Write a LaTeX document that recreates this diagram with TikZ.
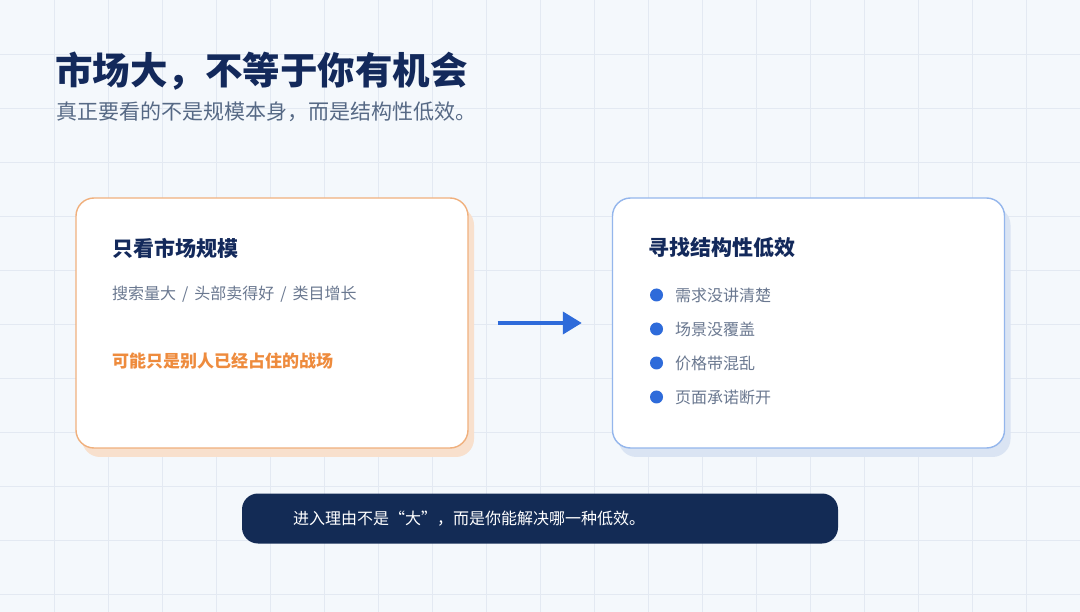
\documentclass[tikz,border=0pt]{standalone}
\usepackage{fontspec}
\setmainfont{Noto Sans CJK SC}
\usetikzlibrary{shadows,arrows.meta}
\definecolor{bgc}{HTML}{F4F8FC}
\definecolor{gridc}{HTML}{E3E9F2}
\definecolor{navy}{HTML}{13295B}
\definecolor{subc}{HTML}{566985}
\definecolor{bodyc}{HTML}{6A7890}
\definecolor{orng}{HTML}{EE8B3D}
\definecolor{orngbd}{HTML}{F0B07D}
\definecolor{orngsh}{HTML}{F8E0CD}
\definecolor{blubd}{HTML}{94B6EC}
\definecolor{blush}{HTML}{DAE4F3}
\definecolor{blu}{HTML}{2E6BDA}
\definecolor{barc}{HTML}{132B55}
\tikzset{
  txt/.style={anchor=west, inner sep=0pt},
  card/.style={draw=#1bd, line width=1.4pt, fill=white, rounded corners=18pt,
    minimum width=392pt, minimum height=250pt, inner sep=0pt,
    drop shadow={shadow xshift=6pt, shadow yshift=-9pt, fill=#1sh, opacity=1}},
  dot/.style={circle, fill=blu, minimum size=13pt, inner sep=0pt},
  bodytxt/.style={txt, text=bodyc, font=\fontsize{16}{18}\selectfont},
}
\newcommand{\slsp}{\hspace{6pt}/\hspace{6pt}}
\begin{document}
\begin{tikzpicture}[x=1pt,y=-1pt]
\useasboundingbox (0,0) rectangle (1080,612);
\fill[bgc] (0,0) rectangle (1080,612);
\foreach \i in {1,...,19} \draw[gridc, line width=0.8pt] (\i*54,0) -- (\i*54,612);
\foreach \j in {1,...,11} \draw[gridc, line width=0.8pt] (0,\j*54) -- (1080,\j*54);

% title
\node[txt, text=navy, font=\fontsize{37.5}{40}\bfseries\selectfont] (title) at (55,71) {市场大，不等于你有机会};
\node[txt, text=subc, font=\fontsize{21}{24}\selectfont] (sub) at (56,112) {真正要看的不是规模本身，而是结构性低效。};

% cards
\node[card=orng] (lcard) at (272,323) {};
\node[card=blu] (rcard) at (808.5,323) {};

% left card text
\node[txt, text=navy, font=\fontsize{21}{24}\bfseries\selectfont] (lt) at (112,248) {只看市场规模};
\node[bodytxt] (ls) at (112,294) {搜索量大\slsp 头部卖得好\slsp 类目增长};
\node[txt, text=orng, font=\fontsize{17}{20}\bfseries\selectfont] (lo) at (112,361) {可能只是别人已经占住的战场};

% right card text
\node[txt, text=navy, font=\fontsize{21}{24}\bfseries\selectfont] (rt) at (648,248) {寻找结构性低效};
\node[dot] (d1) at (656.5,295) {};
\node[dot] (d2) at (656.5,329) {};
\node[dot] (d3) at (656.5,363) {};
\node[dot] (d4) at (656.5,397) {};
\node[bodytxt] (b1) at (675,295) {需求没讲清楚};
\node[bodytxt] (b2) at (675,329) {场景没覆盖};
\node[bodytxt] (b3) at (675,363) {价格带混乱};
\node[bodytxt] (b4) at (675,397) {页面承诺断开};

% arrow
\draw[blu, line width=4pt, shorten <=29pt, shorten >=30pt,
  -{Triangle[length=19pt,width=22pt]}] (lcard.east) -- (rcard.west);

% bottom bar
\node[fill=barc, rounded corners=16pt, minimum height=50pt, inner xsep=51pt,
  text width=494pt, align=left, text=white, font=\fontsize{16}{18}\selectfont]
  (bar) at (540,518.5) {进入理由不是“大”，而是你能解决哪一种低效。};
\end{tikzpicture}
\end{document}
